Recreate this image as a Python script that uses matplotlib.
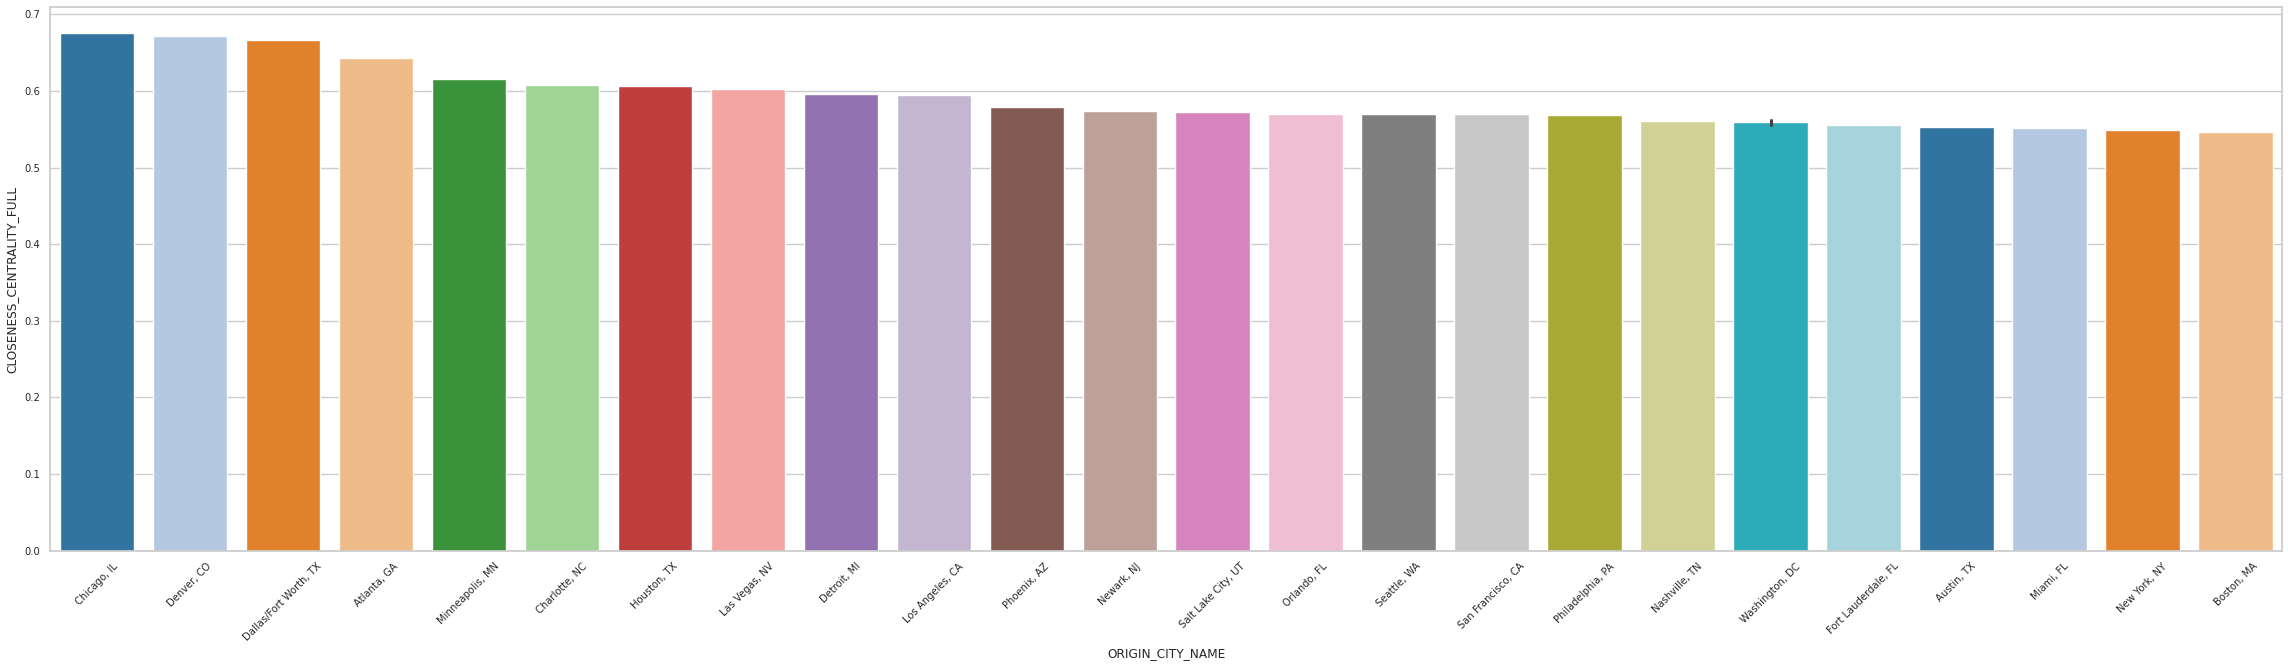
import numpy as np
import pandas as pd
import matplotlib
matplotlib.use("Agg")
import matplotlib.pyplot as plt
import seaborn as sns

# origin cities in plot order (Washington, DC has two airports -> two rows)
cities = [
    "Chicago, IL", "Denver, CO", "Dallas/Fort Worth, TX", "Atlanta, GA",
    "Minneapolis, MN", "Charlotte, NC", "Houston, TX", "Las Vegas, NV",
    "Detroit, MI", "Los Angeles, CA", "Phoenix, AZ", "Newark, NJ",
    "Salt Lake City, UT", "Orlando, FL", "Seattle, WA", "San Francisco, CA",
    "Philadelphia, PA", "Nashville, TN", "Washington, DC", "Washington, DC",
    "Fort Lauderdale, FL", "Austin, TX", "Miami, FL", "New York, NY",
    "Boston, MA",
]
closeness = [
    0.676, 0.671, 0.666, 0.643,
    0.615, 0.608, 0.607, 0.603,
    0.5965, 0.594, 0.5795, 0.574,
    0.573, 0.570, 0.570, 0.570,
    0.568, 0.561, 0.5625, 0.556,
    0.556, 0.553, 0.552, 0.549,
    0.547,
]

df = pd.DataFrame({"ORIGIN_CITY_NAME": cities,
                   "CLOSENESS_CENTRALITY_FULL": closeness})

sns.set_theme(style="whitegrid")
plt.rcParams['font.family'] = ['DejaVu Sans']

fig, ax = plt.subplots(figsize=(22.88, 6.66), dpi=100)
fig.subplots_adjust(left=0.022, right=0.9974, top=0.989, bottom=0.173)

sns.barplot(data=df, x="ORIGIN_CITY_NAME", y="CLOSENESS_CENTRALITY_FULL",
            hue="ORIGIN_CITY_NAME", palette="tab20", legend=False, ax=ax,
            err_kws={"linewidth": 2.2})

ax.set_ylim(0, 0.709)
ax.tick_params(axis="both", labelsize=7.2, length=0, pad=7.5)
plt.setp(ax.get_xticklabels(), rotation=45)
ax.set_xlabel("ORIGIN_CITY_NAME", fontsize=8.7, labelpad=3)
ax.set_ylabel("CLOSENESS_CENTRALITY_FULL", fontsize=8.7)

fig.savefig("out.png", dpi=100)
